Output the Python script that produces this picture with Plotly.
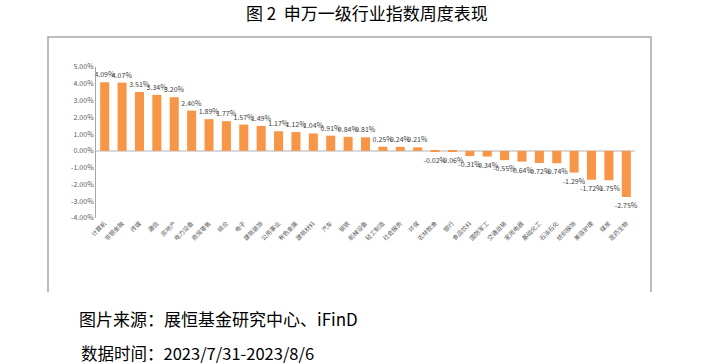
import plotly.graph_objects as go

industries = ["计算机", "非银金融", "传媒", "通信", "房地产", "电力设备", "商贸零售", "综合",
              "电子", "建筑装饰", "公用事业", "有色金属", "建筑材料", "汽车", "钢铁", "机械设备",
              "轻工制造", "社会服务", "环保", "农林牧渔", "银行", "食品饮料", "国防军工",
              "交通运输", "家用电器", "基础化工", "石油石化", "纺织服饰", "美容护理", "煤炭", "医药生物"]
weekly_change = [4.09, 4.07, 3.51, 3.34, 3.20, 2.40, 1.89, 1.77, 1.57, 1.49, 1.17, 1.12, 1.04,
                 0.91, 0.84, 0.81, 0.25, 0.24, 0.21, -0.02, -0.06, -0.31, -0.34, -0.55, -0.64,
                 -0.72, -0.74, -1.29, -1.72, -1.75, -2.75]
y_ticks = [5, 4, 3, 2, 1, 0, -1, -2, -3, -4]
y_tick_labels = [f"{v:.2f}%" for v in y_ticks]

W, H = 716, 364
FONT = "Noto Sans CJK SC"

def px(x):
    return x / W

def py(y):
    return 1 - y / H

fig = go.Figure()
fig.add_trace(go.Bar(
    x=industries, y=weekly_change,
    marker=dict(color="#F79646", line=dict(width=0)),
    width=0.52,
    text=[f"{v:.2f}%" for v in weekly_change],
    textposition="outside",
    constraintext="none",
    cliponaxis=False,
    textfont=dict(size=7, color="#404040", family=FONT),
    hoverinfo="skip",
))

fig.update_layout(
    width=W, height=H,
    margin=dict(l=0, r=0, t=0, b=0),
    paper_bgcolor="white", plot_bgcolor="white",
    showlegend=False,
    xaxis=dict(
        domain=[px(96), px(635)],
        anchor="y",
        tickangle=-45,
        tickfont=dict(size=6, color="#595959", family=FONT),
        showline=False, showgrid=False, ticks="",
        type="category",
        automargin=False,
    ),
    yaxis=dict(
        domain=[py(218), py(67)],
        range=[-4, 5],
        tickvals=y_ticks, ticktext=y_tick_labels,
        tickfont=dict(size=7, color="#595959", family=FONT),
        showgrid=False, zeroline=True, zerolinecolor="#D9D9D9", zerolinewidth=2,
        showline=True, linecolor="#A6A6A6", linewidth=1,
        ticks="", automargin=False,
    ),
)

# chart frame (left, top, right)
fig.add_shape(type="path", xref="paper", yref="paper",
              path=f"M {px(48)} {py(292)} L {px(48)} {py(37)} L {px(651)} {py(37)} L {px(651)} {py(292)}",
              line=dict(color="#A6A6A6", width=1.5))

fig.add_annotation(text="图 2  申万一级行业指数周度表现", xref="paper", yref="paper",
                   x=px(367), y=py(13), xanchor="center", yanchor="middle", showarrow=False,
                   font=dict(size=17, color="#000000", family=FONT))
fig.add_annotation(text="图片来源：展恒基金研究中心、iFinD", xref="paper", yref="paper",
                   x=px(77), y=py(318), xanchor="left", yanchor="middle", showarrow=False,
                   font=dict(size=17, color="#000000", family=FONT))
fig.add_annotation(text="数据时间：2023/7/31-2023/8/6", xref="paper", yref="paper",
                   x=px(79), y=py(353), xanchor="left", yanchor="middle", showarrow=False,
                   font=dict(size=16.5, color="#000000", family=FONT))

fig.write_html("out.html", config={"displayModeBar": False},
               post_script="document.body.style.margin='0';")
